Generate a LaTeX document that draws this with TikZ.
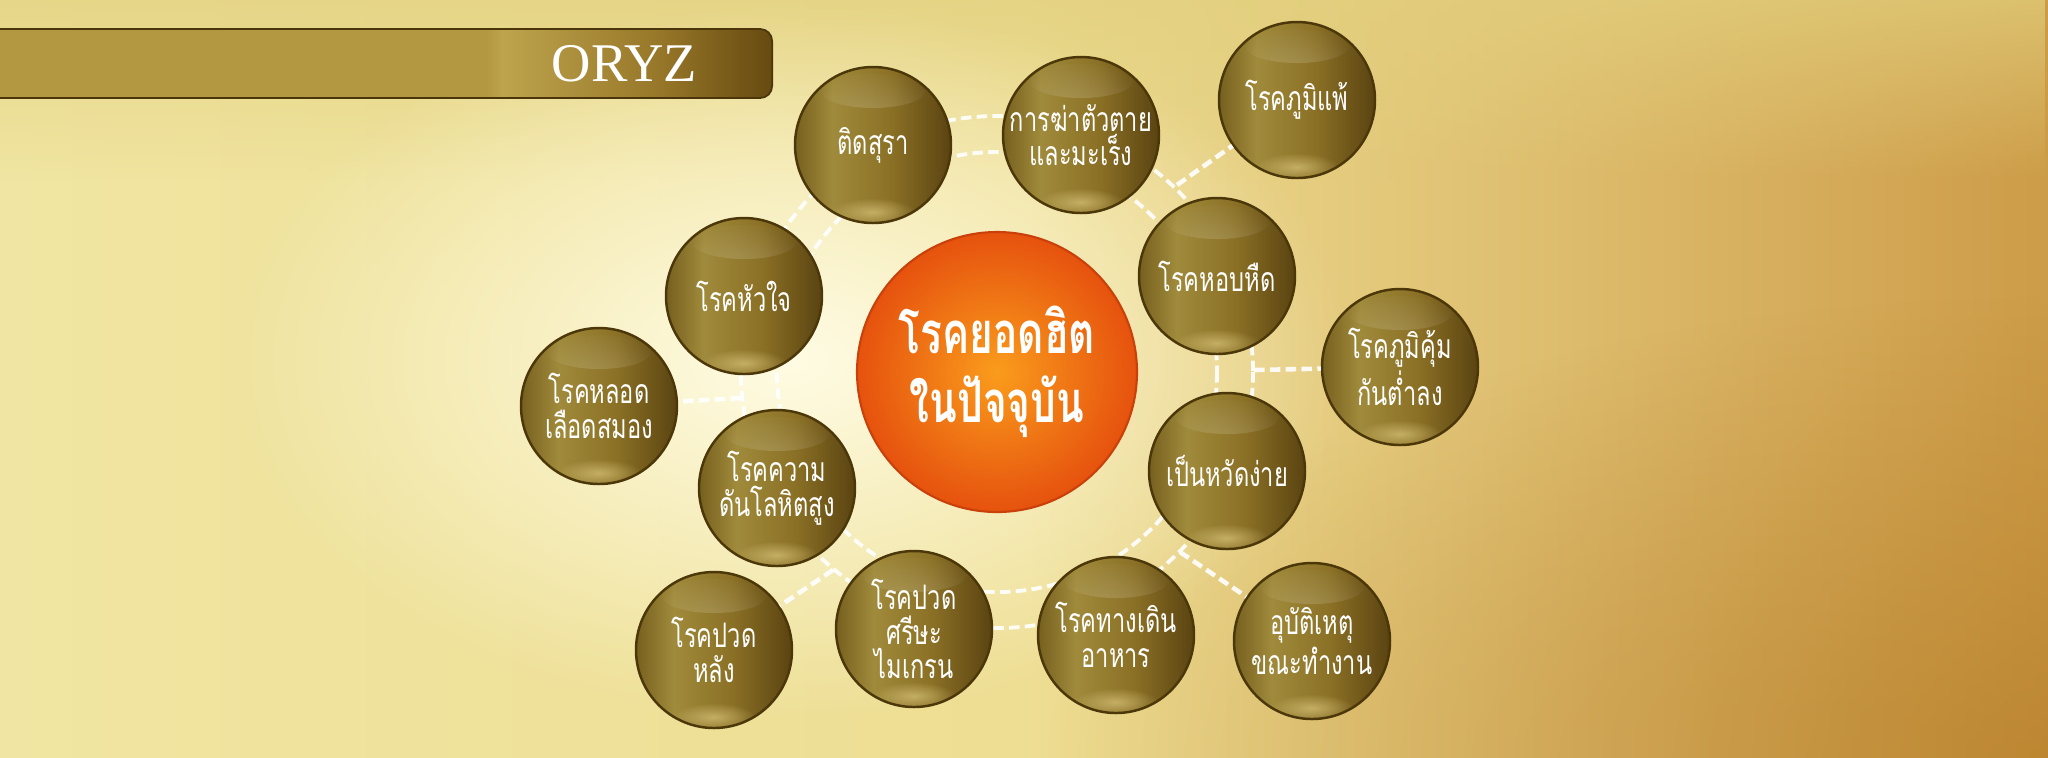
\documentclass[tikz,border=0pt]{standalone}
\usepackage{fontspec}
\setmainfont{Liberation Serif}
\newfontfamily\thaifont[Script=Thai,FakeStretch=0.7]{Loma}
\usetikzlibrary{fadings}
\definecolor{bgA}{HTML}{F0E5A2}
\definecolor{bgB}{HTML}{EEDE93}
\definecolor{bgC}{HTML}{E0C274}
\definecolor{bgD}{HTML}{CD9C48}
\definecolor{bgTop}{HTML}{E2D07E}
\definecolor{bgGlow}{HTML}{FFFCE4}
\definecolor{bgDeep}{HTML}{B07520}
\definecolor{banA}{HTML}{B39741}
\definecolor{banB}{HTML}{BEA44D}
\definecolor{banC}{HTML}{967628}
\definecolor{banD}{HTML}{664A10}
\definecolor{banEdge}{HTML}{4A360A}
\definecolor{ballE}{HTML}{76601F}
\definecolor{ballL}{HTML}{A08A3B}
\definecolor{ballM}{HTML}{8A7025}
\definecolor{ballD}{HTML}{5A4311}
\definecolor{ballEdge}{HTML}{4B3709}
\definecolor{ballGlow}{HTML}{E6D38C}
\definecolor{hubIn}{HTML}{FA9C1C}
\definecolor{hubOut}{HTML}{E6520E}
\definecolor{hubEdge}{HTML}{C9400A}
\pgfdeclarehorizontalshading{bgshade}{100bp}{color(0bp)=(bgA); color(25bp)=(bgA); color(50bp)=(bgB); color(61bp)=(bgC); color(75bp)=(bgD); color(100bp)=(bgD)}
\pgfdeclarehorizontalshading{ballshade}{100bp}{color(0bp)=(ballE); color(25bp)=(ballE); color(37bp)=(ballL); color(56bp)=(ballM); color(75bp)=(ballD); color(100bp)=(ballD)}
\pgfdeclarehorizontalshading{bannershade}{100bp}{color(0bp)=(banA); color(25bp)=(banA); color(57bp)=(banA); color(58bp)=(banB); color(68bp)=(banC); color(75bp)=(banD); color(100bp)=(banD)}
\tikzfading[name=glowfade, inner color=transparent!0, outer color=transparent!100]
\tikzfading[name=fadedown, top color=transparent!0, bottom color=transparent!100]
\begin{document}
\begin{tikzpicture}[x=0.1mm, y=-0.1mm,
  ball/.style={circle, draw=ballEdge, line width=0.7pt, minimum size=15.6mm, inner sep=-2mm, shade, shading=ballshade, text=white, align=center, font=\thaifont\fontsize{9.6}{9.8}\selectfont,
    path picture={
      \fill[white, opacity=0.28, path fading=glowfade] ([yshift=-2.4mm]path picture bounding box.north) ellipse[x radius=5.2mm, y radius=1.7mm];
      \fill[ballGlow, opacity=0.6, path fading=glowfade] ([yshift=1.1mm]path picture bounding box.south) ellipse[x radius=4.2mm, y radius=1.4mm];}},
  hubball/.style={circle, minimum size=28mm, inner sep=0pt, draw=hubEdge, line width=0.6pt, inner color=hubIn, outer color=hubOut, text=white, align=center, font=\thaifont\bfseries\fontsize{16.5}{19.5}\selectfont},
  banner/.style={anchor=east, shade, shading=bannershade, draw=banEdge, line width=0.5pt, rounded corners=1.2mm, minimum width=79.3mm, minimum height=6.9mm, text width=64.3mm, align=right, inner xsep=7.5mm, text=white, font=\fontsize{15.5}{15.5}\selectfont},
  ring/.style={draw=white, line width=1.1pt, dash pattern=on 3pt off 1.5pt, opacity=0.9},
  link/.style={ring, line width=1.3pt}]
\useasboundingbox (0,0) rectangle (2048,757);
\begin{scope}
\clip (0,0) rectangle (2048,757);
\shade[shading=bgshade] (0,0) rectangle (2048,757);
\fill[bgTop, opacity=0.7, path fading=fadedown] (0,0) rectangle (2048,180);
\fill[bgDeep, opacity=0.55, path fading=glowfade] (2048,757) ellipse[x radius=1000, y radius=460];
\fill[bgGlow, path fading=glowfade] (790,360) ellipse[x radius=560, y radius=360];
\end{scope}
\node[banner] (brand) at (773,63.5) {ORYZ};
\node[hubball] (hub) at (997,372) {โรคยอดฮิต\\ในปัจจุบัน};
\draw[ring] (hub) circle[radius=220];
\draw[ring] (hub) circle[radius=256];
\node[ball] (drink) at (873,145) {ติดสุรา};
\node[ball] (suicide) at (1081,135) {การฆ่าตัวตาย\\และมะเร็ง};
\node[ball] (allergy) at (1297,100) {โรคภูมิแพ้};
\node[ball] (heart) at (744,296) {โรคหัวใจ};
\node[ball] (asthma) at (1217,276) {โรคหอบหืด};
\node[ball] (stroke) at (599,406) {โรคหลอด\\เลือดสมอง};
\node[ball] (immune) at (1400,367) {โรคภูมิคุ้ม\\กันต่ำลง};
\node[ball] (pressure) at (777,488) {โรคความ\\ดันโลหิตสูง};
\node[ball] (cold) at (1227,471) {เป็นหวัดง่าย};
\node[ball] (back) at (714,650) {โรคปวด\\หลัง};
\node[ball] (migraine) at (914,629) {โรคปวด\\ศรีษะ\\ไมเกรน};
\node[ball] (digest) at (1116,635) {โรคทางเดิน\\อาหาร};
\node[ball] (accident) at (1312,641) {อุบัติเหตุ\\ขณะทำงาน};
\coordinate (jallergy) at (1177,185);
\coordinate (jimmune) at (1254,370);
\coordinate (jaccident) at (1180,552);
\coordinate (jback) at (833,570);
\coordinate (jstroke) at (741,398);
\draw[link] (jallergy) -- (allergy);
\draw[link] (jimmune) -- (immune);
\draw[link] (jaccident) -- (accident);
\draw[link] (jback) -- (back);
\draw[link] (jstroke) -- (stroke);
\end{tikzpicture}
\end{document}
